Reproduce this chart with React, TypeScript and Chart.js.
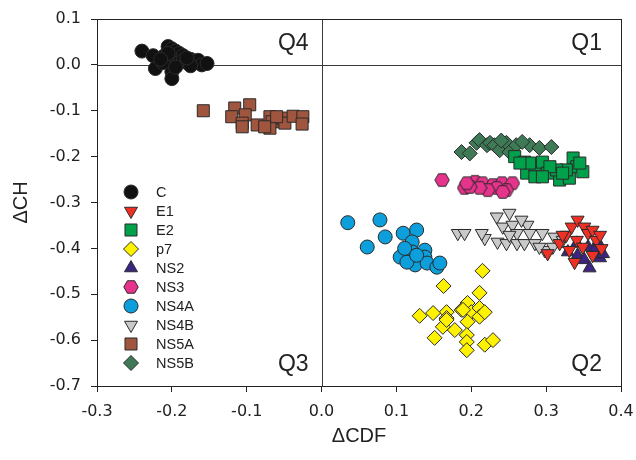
import React, { useEffect, useRef } from 'react';
import { Chart, registerables } from 'chart.js';
import { drawPoint } from 'chart.js/helpers';

Chart.register(...registerables);

const X_MIN = -0.3;
const X_MAX = 0.4;
const Y_MIN = -0.7;
const Y_MAX = 0.1;
const QUAD_LABELS = ['Q1', 'Q2', 'Q3', 'Q4'];
const X_TITLE = 'ΔCDF';
const Y_TITLE = 'ΔCH';

const C_pts = [
  [-0.240, 0.030], [-0.225, 0.020], [-0.222, -0.008], [-0.205, 0.040], [-0.200, 0.035],
  [-0.195, 0.030], [-0.210, 0.020], [-0.205, 0.010], [-0.200, 0.000], [-0.195, 0.015],
  [-0.190, 0.025], [-0.185, 0.020], [-0.190, 0.005], [-0.185, 0.010], [-0.200, -0.015],
  [-0.200, -0.030], [-0.212, 0.005], [-0.180, 0.005], [-0.175, 0.012], [-0.170, 0.005],
  [-0.165, 0.010], [-0.160, 0.000], [-0.153, 0.003], [-0.175, -0.002], [-0.195, -0.005],
  [-0.205, 0.025], [-0.215, 0.012], [-0.180, 0.015],
];
const E1_pts = [
  [0.302, -0.411], [0.318, -0.389], [0.327, -0.371], [0.334, -0.353], [0.342, -0.338],
  [0.351, -0.353], [0.356, -0.367], [0.362, -0.360], [0.367, -0.382], [0.374, -0.400],
  [0.341, -0.382], [0.349, -0.397], [0.338, -0.430], [0.362, -0.415], [0.331, -0.404],
  [0.372, -0.371], [0.322, -0.371],
];
const E2_pts = [
  [0.258, -0.200], [0.271, -0.212], [0.274, -0.236], [0.285, -0.218], [0.295, -0.212],
  [0.302, -0.236], [0.318, -0.251], [0.331, -0.247], [0.336, -0.203], [0.341, -0.222],
  [0.349, -0.233], [0.327, -0.229], [0.314, -0.229], [0.305, -0.222], [0.278, -0.214],
  [0.265, -0.214], [0.285, -0.244], [0.295, -0.244], [0.322, -0.236], [0.345, -0.214],
];
const p7_pts = [
  [0.215, -0.449], [0.163, -0.482], [0.211, -0.497], [0.195, -0.519], [0.200, -0.539],
  [0.211, -0.530], [0.211, -0.549], [0.218, -0.539], [0.187, -0.534], [0.167, -0.539],
  [0.167, -0.552], [0.149, -0.541], [0.131, -0.547], [0.162, -0.571], [0.178, -0.578],
  [0.195, -0.560], [0.194, -0.589], [0.194, -0.604], [0.194, -0.622], [0.151, -0.595],
  [0.218, -0.610], [0.229, -0.600], [0.189, -0.534], [0.167, -0.556],
];
const NS2_pts = [
  [0.329, -0.408], [0.342, -0.415], [0.356, -0.397], [0.351, -0.425], [0.358, -0.443],
  [0.372, -0.421], [0.369, -0.386], [0.365, -0.404], [0.341, -0.389], [0.376, -0.412],
];
const NS3_pts = [
  [0.161, -0.251], [0.191, -0.268], [0.205, -0.255], [0.215, -0.258], [0.229, -0.262],
  [0.241, -0.258], [0.255, -0.258], [0.247, -0.273], [0.234, -0.268], [0.222, -0.273],
  [0.211, -0.268], [0.198, -0.266], [0.194, -0.258], [0.242, -0.277],
];
const NS4A_pts = [
  [0.035, -0.344], [0.078, -0.338], [0.085, -0.375], [0.061, -0.397], [0.109, -0.367],
  [0.127, -0.360], [0.121, -0.386], [0.121, -0.408], [0.105, -0.419], [0.138, -0.404],
  [0.138, -0.419], [0.125, -0.436], [0.141, -0.432], [0.154, -0.441], [0.158, -0.432],
  [0.114, -0.430], [0.111, -0.400], [0.127, -0.415],
];
const NS4B_pts = [
  [0.182, -0.367], [0.191, -0.367], [0.218, -0.378], [0.234, -0.331], [0.242, -0.353],
  [0.251, -0.323], [0.255, -0.349], [0.235, -0.386], [0.247, -0.389], [0.261, -0.367],
  [0.261, -0.389], [0.275, -0.349], [0.278, -0.367], [0.271, -0.389], [0.285, -0.389],
  [0.295, -0.367], [0.298, -0.404], [0.311, -0.375], [0.309, -0.397], [0.291, -0.397],
  [0.214, -0.367], [0.322, -0.382], [0.251, -0.371], [0.267, -0.338],
];
const NS5A_pts = [
  [-0.158, -0.100], [-0.116, -0.094], [-0.096, -0.087], [-0.120, -0.113], [-0.102, -0.109],
  [-0.106, -0.127], [-0.106, -0.135], [-0.086, -0.131], [-0.069, -0.113], [-0.066, -0.124],
  [-0.069, -0.138], [-0.052, -0.116], [-0.049, -0.127], [-0.038, -0.112], [-0.025, -0.113],
  [-0.026, -0.129], [-0.060, -0.113], [-0.076, -0.135],
];
const NS5B_pts = [
  [0.187, -0.190], [0.198, -0.193], [0.207, -0.170], [0.211, -0.164], [0.221, -0.175],
  [0.225, -0.170], [0.231, -0.175], [0.238, -0.186], [0.247, -0.170], [0.251, -0.190],
  [0.260, -0.175], [0.278, -0.175], [0.291, -0.181], [0.307, -0.179], [0.240, -0.165],
  [0.268, -0.168],
];

const SERIES_NAMES = ['C', 'E1', 'E2', 'p7', 'NS2', 'NS3', 'NS4A', 'NS4B', 'NS5A', 'NS5B'];
const SERIES_POINTS = [C_pts, E1_pts, E2_pts, p7_pts, NS2_pts, NS3_pts, NS4A_pts, NS4B_pts, NS5A_pts, NS5B_pts];
const SERIES_COLORS = ['#111111', '#ee3124', '#00a14b', '#fff200', '#3b2482', '#e6338b', '#0c9fdb', '#c9c9c9', '#a0553e', '#3e7a55'];
const SERIES_STYLES = ['circle', 'triangle', 'rect', 'rectRot', 'triangle', 'hexagon', 'circle', 'triangle', 'rect', 'rectRot'];
const SERIES_ROT = [0, 180, 0, 0, 0, 0, 0, 180, 0, 0];
const SERIES_RADIUS = [7, 7.5, 8.5, 7.5, 7.5, 7, 7, 7.5, 8.5, 7.5];

const FONT = '"Liberation Sans", Arial, Helvetica, sans-serif';
const TICK_FONT = '"DejaVu Sans", "Liberation Sans", Arial, sans-serif';

function makeHexagon(color: string) {
  const c = document.createElement('canvas');
  c.width = 16;
  c.height = 16;
  const g = c.getContext('2d')!;
  g.beginPath();
  for (let i = 0; i < 6; i++) {
    const a = Math.PI / 6 + (i * Math.PI) / 3 - Math.PI / 2;
    const px = 8 + Math.cos(a) * 7.2;
    const py = 8 + Math.sin(a) * 7.2;
    if (i === 0) g.moveTo(px, py); else g.lineTo(px, py);
  }
  g.closePath();
  g.fillStyle = color;
  g.fill();
  g.strokeStyle = '#2a2a2a';
  g.lineWidth = 1;
  g.stroke();
  return c;
}

export default function App() {
  const ref = useRef<HTMLCanvasElement>(null);

  useEffect(() => {
    if (!ref.current) return;
    const hex = makeHexagon(SERIES_COLORS[5]);

    const datasets = SERIES_NAMES.map((name, i) => ({
      label: name,
      data: SERIES_POINTS[i].map(([x, y]) => ({ x, y })),
      backgroundColor: SERIES_COLORS[i],
      borderColor: '#2a2a2a',
      borderWidth: 1,
      pointStyle: SERIES_STYLES[i] === 'hexagon' ? hex : SERIES_STYLES[i],
      pointRotation: SERIES_ROT[i],
      pointRadius: SERIES_RADIUS[i],
      pointHoverRadius: SERIES_RADIUS[i],
    }));

    const framePlugin = {
      id: 'frameLines',
      beforeDatasetsDraw(chart: any) {
        const { ctx, chartArea: a, scales } = chart;
        const x0 = Math.round(scales.x.getPixelForValue(0)) + 0.5;
        const y0 = Math.round(scales.y.getPixelForValue(0)) + 0.5;
        ctx.save();
        ctx.strokeStyle = '#3a3a3a';
        ctx.lineWidth = 1;
        ctx.beginPath();
        ctx.moveTo(x0, a.top);
        ctx.lineTo(x0, a.bottom);
        ctx.moveTo(a.left, y0);
        ctx.lineTo(a.right, y0);
        ctx.stroke();
        ctx.restore();
      },
      afterDatasetsDraw(chart: any) {
        const { ctx, chartArea: a, scales } = chart;
        ctx.save();
        ctx.strokeStyle = '#222';
        ctx.lineWidth = 1;
        ctx.strokeRect(Math.round(a.left) + 0.5, Math.round(a.top) + 0.5, Math.round(a.right - a.left), Math.round(a.bottom - a.top));

        // quadrant labels
        const x0 = scales.x.getPixelForValue(0);
        ctx.fillStyle = '#222';
        ctx.font = '23px ' + FONT;
        ctx.textAlign = 'right';
        ctx.textBaseline = 'middle';
        const topY = a.top + 25;
        const botY = a.bottom - 21;
        ctx.fillText(QUAD_LABELS[0], a.right - 19, topY);
        ctx.fillText(QUAD_LABELS[1], a.right - 19, botY);
        ctx.fillText(QUAD_LABELS[2], x0 - 13, botY);
        ctx.fillText(QUAD_LABELS[3], x0 - 13, topY);

        // legend
        chart.data.datasets.forEach((ds: any, i: number) => {
          const ly = a.top + 173 + i * 19;
          const lx = a.left + 34;
          ctx.save();
          ctx.fillStyle = ds.backgroundColor;
          ctx.strokeStyle = ds.borderColor;
          ctx.lineWidth = 1;
          drawPoint(ctx, { pointStyle: ds.pointStyle, rotation: ds.pointRotation || 0, radius: ds.pointRadius, borderWidth: 1 }, lx, ly);
          ctx.fillStyle = '#222';
          ctx.font = '14.5px ' + FONT;
          ctx.textAlign = 'left';
          ctx.textBaseline = 'middle';
          ctx.fillText(ds.label, a.left + 59, ly + 1);
          ctx.restore();
        });
        ctx.restore();
      },
    };

    const chart = new Chart(ref.current, {
      type: 'scatter',
      data: { datasets },
      options: {
        animation: false,
        responsive: false,
        events: [],
        layout: { padding: { top: 19, right: 15, left: 0, bottom: 0 } },
        plugins: { legend: { display: false }, tooltip: { enabled: false } },
        scales: {
          x: {
            type: 'linear',
            min: X_MIN,
            max: X_MAX,
            ticks: {
              stepSize: 0.1,
              padding: 10,
              color: '#222',
              font: { size: 16, family: TICK_FONT },
              callback: (v: any) => Number(v).toFixed(1),
            },
            grid: { display: true, drawOnChartArea: false, drawTicks: true, tickLength: 6, tickColor: '#222' },
            border: { display: false },
            title: { display: true, text: X_TITLE, color: '#222', font: { size: 20, family: FONT }, padding: { top: 0, bottom: 12 } },
            afterFit: (s: any) => { s.height = 74; s.paddingLeft = 0; s.paddingRight = 0; },
          },
          y: {
            type: 'linear',
            min: Y_MIN,
            max: Y_MAX,
            ticks: {
              stepSize: 0.1,
              padding: 10,
              color: '#222',
              font: { size: 16, family: TICK_FONT },
              callback: (v: any) => Number(v).toFixed(1),
            },
            grid: { display: true, drawOnChartArea: false, drawTicks: true, tickLength: 6, tickColor: '#222' },
            border: { display: false },
            title: { display: true, text: Y_TITLE, color: '#222', font: { size: 20, family: FONT }, padding: { top: 9, bottom: 0 } },
            afterFit: (s: any) => { s.width = 97; s.paddingTop = 0; s.paddingBottom = 0; },
          },
        },
      },
      plugins: [framePlugin],
    });
    return () => chart.destroy();
  }, []);

  return (
    <div style={{ position: 'fixed', left: 0, top: 0, width: 636, height: 460, background: '#fff' }}>
      <canvas ref={ref} width={636} height={460} style={{ display: 'block' }} />
    </div>
  );
}
